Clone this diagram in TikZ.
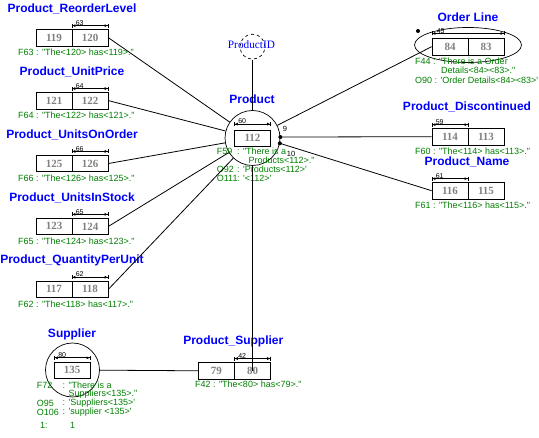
\documentclass[tikz,border=0pt]{standalone}
\usepackage{fontspec}
\usetikzlibrary{arrows.meta,shapes.geometric}
\newfontfamily\ttlfont{Liberation Sans}
\newfontfamily\notefont{Liberation Sans}[Ligatures=TeXOff]
\newfontfamily\cellfont{Liberation Serif}
\definecolor{ttlblue}{RGB}{0,0,255}
\definecolor{notegreen}{RGB}{0,128,0}
\definecolor{cellgray}{RGB}{128,128,128}
\tikzset{
  ttl/.style={text=ttlblue, font=\ttlfont\bfseries\fontsize{12}{14}\selectfont, inner sep=0pt},
  cellbox/.style={draw, line width=0.8pt, minimum width=36pt, minimum height=16.7pt, inner sep=0pt,
    text=cellgray, font=\cellfont\bfseries\fontsize{11}{12}\selectfont},
  note/.style={text=notegreen, font=\notefont\fontsize{9}{10}\selectfont, anchor=west, inner sep=0pt},
  tag/.style={font=\notefont\fontsize{7}{8}\selectfont, anchor=south west, inner sep=0pt},
  rolenum/.style={font=\notefont\fontsize{7.5}{8}\selectfont, inner sep=0pt},
  uq/.style={line width=0.7pt, {Bar[width=4pt]Latex[length=3pt,width=3pt]}-{Latex[length=3pt,width=3pt]Bar[width=4pt]}},
  link/.style={line width=0.8pt},
  ring/.style={draw, circle, line width=0.7pt, minimum size=55pt, inner sep=0pt},
  dot/.style={circle, fill, inner sep=0pt, minimum size=4pt},
}
\begin{document}
\begin{tikzpicture}[x=1pt,y=-1pt]
\useasboundingbox (0,0) rectangle (539,438);

% ---------- central entity: Product ----------
\node[ttl] (prodttl) at (252,99.5) {Product};
\node[ring] (product) at (252.5,138) {};
\node[cellbox, minimum height=16pt] (p112) at (252.5,138) {112};
\draw[uq] ([yshift=5.5pt]p112.north west) -- ([yshift=5.5pt]p112.north east);
\node[tag] (t60) at ([xshift=4pt,yshift=5.5pt]p112.north west) {60};
\node[dot] (pdot1) at (product.2) {};
\node[dot] (pdot2) at (product.-11) {};
\node[rolenum] (r9) at (285,129) {9};
\node[rolenum] (r10) at (291,154) {10};
\node[note] (n59a) at (216.7,151.7) {F59};
\node[note] (n59b) at (237,151.7) {: "There is a};
\node[note] (n59c) at (248.3,160.7) {Products<112>."};
\node[note] (n92a) at (216.7,169.3) {O92};
\node[note] (n92b) at (237,169.3) {: 'Products<112>'};
\node[note] (n111a) at (216.7,178.3) {O111};
\node[note] (n111b) at (237,178.3) {: '<112>'};

% ---------- value type ProductID ----------
\node[draw, circle, dashed, line width=0.7pt, minimum size=25pt, inner sep=0pt] (pid) at (252.5,46.7) {};
\node[text=ttlblue, font=\cellfont\fontsize{11.3}{12}\selectfont, inner sep=0pt] (pidtxt) at (251.5,45) {ProductID};

% ---------- left column ----------
\node[ttl] (rlttl) at (72,9) {Product\_ReorderLevel};
\node[cellbox] (rl119) at (54,37.7) {119};
\node[cellbox] (rl120) at (90,37.7) {120};
\draw[uq] ([yshift=3.3pt]rl120.north west) -- ([yshift=3.3pt]rl120.north east);
\node[tag] (t63) at ([xshift=4pt,yshift=3.3pt]rl120.north west) {63};
\node[note] (n63) at (18,52.7) {F63 : "The<120> has<119>."};

\node[ttl] (upttl) at (72,71.9) {Product\_UnitPrice};
\node[cellbox] (up121) at (54,100.6) {121};
\node[cellbox] (up122) at (90,100.6) {122};
\draw[uq] ([yshift=3.3pt]up122.north west) -- ([yshift=3.3pt]up122.north east);
\node[tag] (t64) at ([xshift=4pt,yshift=3.3pt]up122.north west) {64};
\node[note] (n64) at (18,115.6) {F64 : "The<122> has<121>."};

\node[ttl] (oottl) at (72,134.8) {Product\_UnitsOnOrder};
\node[cellbox] (oo125) at (54,163.5) {125};
\node[cellbox] (oo126) at (90,163.5) {126};
\draw[uq] ([yshift=3.3pt]oo126.north west) -- ([yshift=3.3pt]oo126.north east);
\node[tag] (t66) at ([xshift=4pt,yshift=3.3pt]oo126.north west) {66};
\node[note] (n66) at (18,178.5) {F66 : "The<126> has<125>."};

\node[ttl] (isttl) at (72,197.7) {Product\_UnitsInStock};
\node[cellbox] (is123) at (54,226.4) {123};
\node[cellbox] (is124) at (90,226.4) {124};
\draw[uq] ([yshift=3.3pt]is124.north west) -- ([yshift=3.3pt]is124.north east);
\node[tag] (t65) at ([xshift=4pt,yshift=3.3pt]is124.north west) {65};
\node[note] (n65) at (18,241.4) {F65 : "The<124> has<123>."};

\node[ttl] (qpttl) at (72,260.6) {Product\_QuantityPerUnit};
\node[cellbox] (qp117) at (54,289.3) {117};
\node[cellbox] (qp118) at (90,289.3) {118};
\draw[uq] ([yshift=3.3pt]qp118.north west) -- ([yshift=3.3pt]qp118.north east);
\node[tag] (t62) at ([xshift=4pt,yshift=3.3pt]qp118.north west) {62};
\node[note] (n62) at (18,304.3) {F62 : "The<118> has<117>."};

% ---------- right column ----------
\node[ttl] (olttl) at (468,17.3) {Order Line};
\node[draw, ellipse, line width=0.7pt, minimum width=107pt, minimum height=35pt, inner sep=0pt] (olring) at (468,45) {};
\node[cellbox] (ol84) at (450,46.7) {84};
\node[cellbox] (ol83) at (486,46.7) {83};
\draw[uq] ([yshift=4.5pt]ol84.north west) -- ([yshift=4.5pt]ol83.north east);
\node[tag] (t45) at ([xshift=5pt,yshift=4.5pt]ol84.north west) {45};
\node[dot] (oldot) at (418,31) {};
\node[note] (n44a) at (415,61.7) {F44 : "There is a Order};
\node[note] (n44b) at (441,70.7) {Details<84><83>."};
\node[note] (n90) at (415,80) {O90 : 'Order Details<84><83>'};

\node[ttl] (dcttl) at (467,107) {Product\_Discontinued};
\node[cellbox] (dc114) at (450,136.7) {114};
\node[cellbox] (dc113) at (486,136.7) {113};
\draw[uq] ([yshift=3.3pt]dc114.north west) -- ([yshift=3.3pt]dc114.north east);
\node[tag] (t59) at ([xshift=4pt,yshift=3.3pt]dc114.north west) {59};
\node[note] (n60) at (415,151.7) {F60 : "The<114> has<113>."};

\node[ttl] (nmttl) at (467,161.7) {Product\_Name};
\node[cellbox] (nm116) at (450,190.7) {116};
\node[cellbox] (nm115) at (486,190.7) {115};
\draw[uq] ([yshift=3.3pt]nm116.north west) -- ([yshift=3.3pt]nm116.north east);
\node[tag] (t61) at ([xshift=4pt,yshift=3.3pt]nm116.north west) {61};
\node[note] (n61) at (415,205.7) {F61 : "The<116> has<115>."};

% ---------- bottom: Supplier and Product_Supplier ----------
\node[ttl] (suttl) at (72,334) {Supplier};
\node[ring, minimum size=54pt] (supplier) at (72.5,370) {};
\node[cellbox, minimum width=35.5pt] (su135) at (72.2,370.3) {135};
\draw[uq] ([yshift=3.7pt]su135.north west) -- ([yshift=3.7pt]su135.north east);
\node[tag] (t80) at ([xshift=4pt,yshift=3.7pt]su135.north west) {80};
\node[note] (n72a) at (36.7,385.7) {F72};
\node[note] (n72b) at (62.5,385.7) {: "There is a};
\node[note] (n72c) at (68.3,394.3) {Suppliers<135>."};
\node[note] (n95a) at (36.7,403.3) {O95};
\node[note] (n95b) at (62.5,403.3) {: 'Suppliers<135>'};
\node[note] (n106a) at (36.7,412.3) {O106};
\node[note] (n106b) at (62.5,412.3) {: 'supplier <135>'};
\node[note] (n1a) at (40,425) {1:};
\node[note] (n1b) at (70,425) {1};

\node[ttl] (psttl) at (233.3,341.7) {Product\_Supplier};
\node[cellbox] (ps79) at (216.3,370.8) {79};
\node[cellbox] (ps80) at (252.5,370.8) {80};
\draw[uq] ([yshift=3.5pt]ps80.north west) -- ([yshift=3.5pt]ps80.north east);
\node[tag] (t42) at ([xshift=4pt,yshift=3.5pt]ps80.north west) {42};
\node[note] (n42) at (195,384.3) {F42 : "The<80> has<79>."};

% ---------- connectors ----------
\draw[link] (rl120.east) -- (product);
\draw[link] (up122.east) -- (product);
\draw[link] (oo126.east) -- (product);
\draw[link] (is124.east) -- (product);
\draw[link] (qp118.east) -- (product);
\draw[link] (ol84.west) -- (product);
\draw[link] (pdot1.center) -- (dc114.west);
\draw[link] (pdot2.center) -- (nm116.west);
\draw[link] (pid) -- (product);
\draw[link] (product) -- (ps80.center);
\draw[link] (supplier) -- (ps79.west);
\end{tikzpicture}
\end{document}
